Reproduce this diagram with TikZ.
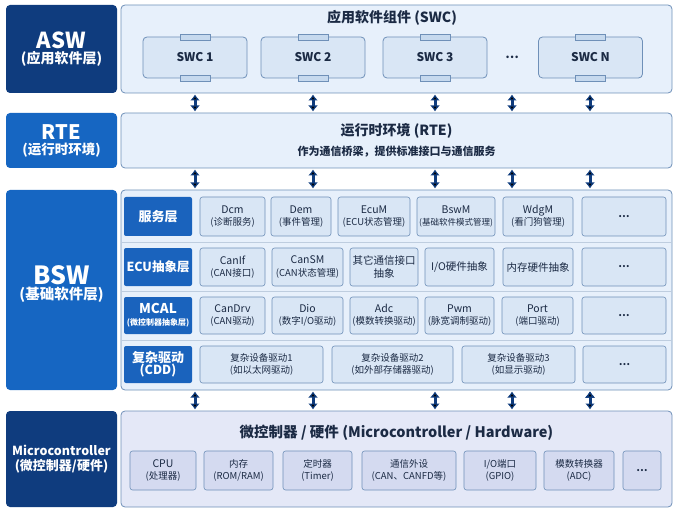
\documentclass[tikz,border=0pt]{standalone}
\usepackage{fontspec}
\setmainfont{Noto Sans CJK SC}
\usetikzlibrary{arrows.meta, positioning}

\definecolor{navy}{HTML}{0F3C7E}
\definecolor{midblue}{HTML}{1666C2}
\definecolor{rowblue}{HTML}{1A63BD}
\definecolor{paleblue}{HTML}{E7F0FB}
\definecolor{boxblue}{HTML}{D9E6F5}
\definecolor{tabblue}{HTML}{C6D9EE}
\definecolor{edgeblue}{HTML}{6F90B8}
\definecolor{palelav}{HTML}{E4E8F7}
\definecolor{boxlav}{HTML}{D4DAF0}
\definecolor{inkdark}{HTML}{1B2A44}

\newcommand{\sub}[1]{{\fontsize{9.5}{12}\selectfont #1}}

\begin{document}
\begin{tikzpicture}[x=1pt, y=-1pt, outer sep=0pt,
    lbl/.style={rectangle, rounded corners=4pt, fill=#1, text=white,
        align=center, inner sep=0pt, font=\bfseries},
    cont/.style={rectangle, rounded corners=4pt, draw=edgeblue, fill=#1,
        line width=0.8pt, inner sep=0pt},
    item/.style={rectangle, rounded corners=2.5pt, draw=edgeblue, fill=#1,
        line width=0.6pt, inner sep=0pt, align=center, text=inkdark,
        font=\fontsize{10.5}{12.5}\selectfont},
    swc/.style={rectangle, rounded corners=4pt, draw=edgeblue, fill=boxblue,
        line width=0.8pt, minimum width=104pt, minimum height=41pt,
        text=inkdark, font=\bfseries\fontsize{12}{14}\selectfont},
    tab/.style={rectangle, draw=edgeblue, fill=tabblue, line width=0.6pt,
        minimum width=30pt, minimum height=6pt, inner sep=0pt},
    title/.style={text=inkdark, font=\bfseries\fontsize{14}{16}\selectfont},
    dots/.style={text=inkdark, font=\bfseries\fontsize{12}{14}\selectfont},
    dbl/.style={{Latex[length=6pt,width=10pt]}-{Latex[length=6pt,width=10pt]},
        draw=navy, line width=3pt, shorten <=1.5pt, shorten >=1.5pt}]
\useasboundingbox (0,0) rectangle (680,513);

% layer labels on the left
\node[lbl=navy, minimum width=111pt, minimum height=88pt] (aswL) at (61.5,49)
    {{\fontsize{22}{24}\selectfont ASW}\\[2pt]{\fontsize{14}{16}\selectfont (应用软件层)}};
\node[lbl=midblue, minimum width=111pt, minimum height=55pt] (rteL) at (61.5,140.5)
    {{\fontsize{20}{22}\selectfont RTE}\\[3pt]{\fontsize{13.5}{15}\selectfont (运行时环境)}};
\node[lbl=midblue, minimum width=111pt, minimum height=200pt] (bswL) at (61.5,290) {};
\node[text=white, font=\bfseries, align=center] (bswT) at (61.5,284)
    {{\fontsize{25}{27}\selectfont BSW}\\[2pt]{\fontsize{14.5}{16}\selectfont (基础软件层)}};
\node[lbl=navy, minimum width=111pt, minimum height=96pt] (mcuL) at (61.5,459)
    {{\fontsize{12.5}{16}\selectfont Microcontroller}\\[3pt]{\fontsize{13}{15}\selectfont (微控制器/硬件)}};

% containers
\node[cont=paleblue, minimum width=551pt, minimum height=88pt] (asw) at (396.5,49) {};
\node[cont=paleblue, minimum width=551pt, minimum height=55pt] (rte) at (396.5,140.5) {};
\node[cont=paleblue, minimum width=551pt, minimum height=200pt] (bsw) at (396.5,290) {};
\node[cont=palelav, minimum width=551pt, minimum height=96pt] (mcu) at (396.5,459) {};

% ASW
\node[title] (aswT) at (392,18) {应用软件组件 (SWC)};
\node[swc] (swc1) at (195,57.5) {SWC 1};
\node[swc] (swc2) at (313,57.5) {SWC 2};
\node[swc] (swc3) at (435,57.5) {SWC 3};
\node[dots] (swcD) at (512,57) {…};
\node[swc] (swcN) at (590.5,57.5) {SWC N};
\node[tab] (t1a) at (swc1.north) {};
\node[tab] (t1b) at (swc1.south) {};
\node[tab] (t2a) at (swc2.north) {};
\node[tab] (t2b) at (swc2.south) {};
\node[tab] (t3a) at (swc3.north) {};
\node[tab] (t3b) at (swc3.south) {};
\node[tab] (tNa) at (swcN.north) {};
\node[tab] (tNb) at (swcN.south) {};

% RTE
\node[title] (rteT) at (396.5,131) {运行时环境 (RTE)};
\node[text=inkdark, font=\bfseries\fontsize{11}{13}\selectfont] (rteS) at (396.5,152)
    {作为通信桥梁，提供标准接口与通信服务};

% BSW row bands
\draw[edgeblue!45, line width=0.6pt] (bsw.west |- 0,242) -- (bsw.east |- 0,242)
    (bsw.west |- 0,291) -- (bsw.east |- 0,291)
    (bsw.west |- 0,340) -- (bsw.east |- 0,340);

\node[lbl=rowblue, rounded corners=2pt, minimum width=68pt, minimum height=39pt] (r1) at (158,216.5)
    {\fontsize{13}{15}\selectfont 服务层};
\node[lbl=rowblue, rounded corners=2pt, minimum width=68pt, minimum height=38pt] (r2) at (158,267)
    {\fontsize{12.5}{15}\selectfont ECU抽象层};
\node[lbl=rowblue, rounded corners=2pt, minimum width=68pt, minimum height=37pt] (r3) at (158,315.5)
    {{\fontsize{13.5}{14}\selectfont MCAL}\\{\fontsize{8}{10}\selectfont (微控制器抽象层)}};
\node[lbl=rowblue, rounded corners=2pt, minimum width=68pt, minimum height=37pt] (r4) at (158,364.5)
    {{\fontsize{13}{15}\selectfont 复杂驱动}\\{\fontsize{12.5}{14}\selectfont (CDD)}};

% row 1: services
\node[item=boxblue, minimum width=65pt, minimum height=39pt] (dcm) at (232.5,216.5) {Dcm\\\sub{(诊断服务)}};
\node[item=boxblue, minimum width=60pt, minimum height=39pt] (dem) at (301,216.5) {Dem\\\sub{(事件管理)}};
\node[item=boxblue, minimum width=72pt, minimum height=39pt] (ecum) at (374,216.5) {EcuM\\\sub{(ECU状态管理)}};
\node[item=boxblue, minimum width=78pt, minimum height=39pt] (bswm) at (456,216.5) {BswM\\{\fontsize{8.5}{12}\selectfont (基础软件模式管理)}};
\node[item=boxblue, minimum width=70pt, minimum height=39pt] (wdgm) at (538,216.5) {WdgM\\\sub{(看门狗管理)}};
\node[item=boxblue, minimum width=84pt, minimum height=39pt, font=\bfseries] (r1d) at (624,216.5) {…};

% row 2: ECU abstraction
\node[item=boxblue, minimum width=65pt, minimum height=38pt] (canif) at (232.5,267) {CanIf\\\sub{(CAN接口)}};
\node[item=boxblue, minimum width=71pt, minimum height=38pt] (cansm) at (307.5,267) {CanSM\\\sub{(CAN状态管理)}};
\node[item=boxblue, minimum width=68pt, minimum height=38pt] (other) at (384,267) {其它通信接口\\抽象};
\node[item=boxblue, minimum width=69pt, minimum height=38pt] (ioab) at (459.5,267) {I/O硬件抽象};
\node[item=boxblue, minimum width=70pt, minimum height=38pt] (memab) at (538,267) {内存硬件抽象};
\node[item=boxblue, minimum width=84pt, minimum height=38pt, font=\bfseries] (r2d) at (624,267) {…};

% row 3: MCAL
\node[item=boxblue, minimum width=65pt, minimum height=37pt] (candrv) at (232.5,315.5) {CanDrv\\\sub{(CAN驱动)}};
\node[item=boxblue, minimum width=71pt, minimum height=37pt] (dio) at (307.5,315.5) {Dio\\\sub{(数字I/O驱动)}};
\node[item=boxblue, minimum width=68pt, minimum height=37pt] (adc) at (384,315.5) {Adc\\\sub{(模数转换驱动)}};
\node[item=boxblue, minimum width=69pt, minimum height=37pt] (pwm) at (459.5,315.5) {Pwm\\\sub{(脉宽调制驱动)}};
\node[item=boxblue, minimum width=71pt, minimum height=37pt] (port) at (537.5,315.5) {Port\\\sub{(端口驱动)}};
\node[item=boxblue, minimum width=84pt, minimum height=37pt, font=\bfseries] (r3d) at (624,315.5) {…};

% row 4: complex drivers
\node[item=boxblue, minimum width=123pt, minimum height=37pt] (cdd1) at (261.5,364.5) {\sub{复杂设备驱动1}\\\sub{(如以太网驱动)}};
\node[item=boxblue, minimum width=121pt, minimum height=37pt] (cdd2) at (392.5,364.5) {\sub{复杂设备驱动2}\\\sub{(如外部存储器驱动)}};
\node[item=boxblue, minimum width=113pt, minimum height=37pt] (cdd3) at (518.5,364.5) {\sub{复杂设备驱动3}\\\sub{(如显示驱动)}};
\node[item=boxblue, minimum width=83pt, minimum height=37pt, font=\bfseries] (r4d) at (624.5,364.5) {…};

% microcontroller
\node[title, font=\bfseries\fontsize{14.5}{16}\selectfont] (mcuT) at (396.5,433)
    {微控制器 / 硬件 (Microcontroller / Hardware)};
\node[item=boxlav, minimum width=66pt, minimum height=39pt] (cpu) at (163,470.5) {CPU\\\sub{(处理器)}};
\node[item=boxlav, minimum width=69pt, minimum height=39pt] (mem) at (238.5,470.5) {\sub{内存}\\\sub{(ROM/RAM)}};
\node[item=boxlav, minimum width=69pt, minimum height=39pt] (tmr) at (317.5,470.5) {\sub{定时器}\\\sub{(Timer)}};
\node[item=boxlav, minimum width=94pt, minimum height=39pt] (comm) at (409,470.5) {\sub{通信外设}\\\sub{(CAN、CANFD等)}};
\node[item=boxlav, minimum width=72pt, minimum height=39pt] (gpio) at (500,470.5) {\sub{I/O端口}\\\sub{(GPIO)}};
\node[item=boxlav, minimum width=70pt, minimum height=39pt] (adcH) at (579,470.5) {\sub{模数转换器}\\\sub{(ADC)}};
\node[item=boxlav, minimum width=38pt, minimum height=39pt, font=\bfseries] (mcuD) at (642,470.5) {…};

% arrow columns
\coordinate (c1) at (195,0);
\coordinate (c2) at (313,0);
\coordinate (c3) at (435,0);
\coordinate (c4) at (512,0);
\coordinate (c5) at (590,0);

\path[dbl]
    (asw.south -| c1) edge (rte.north -| c1)
    (asw.south -| c2) edge (rte.north -| c2)
    (asw.south -| c3) edge (rte.north -| c3)
    (asw.south -| c4) edge (rte.north -| c4)
    (asw.south -| c5) edge (rte.north -| c5)
    (rte.south -| c1) edge (bsw.north -| c1)
    (rte.south -| c2) edge (bsw.north -| c2)
    (rte.south -| c3) edge (bsw.north -| c3)
    (rte.south -| c4) edge (bsw.north -| c4)
    (rte.south -| c5) edge (bsw.north -| c5)
    (bsw.south -| c1) edge (mcu.north -| c1)
    (bsw.south -| c2) edge (mcu.north -| c2)
    (bsw.south -| c3) edge (mcu.north -| c3)
    (bsw.south -| c4) edge (mcu.north -| c4)
    (bsw.south -| c5) edge (mcu.north -| c5);
\end{tikzpicture}
\end{document}
